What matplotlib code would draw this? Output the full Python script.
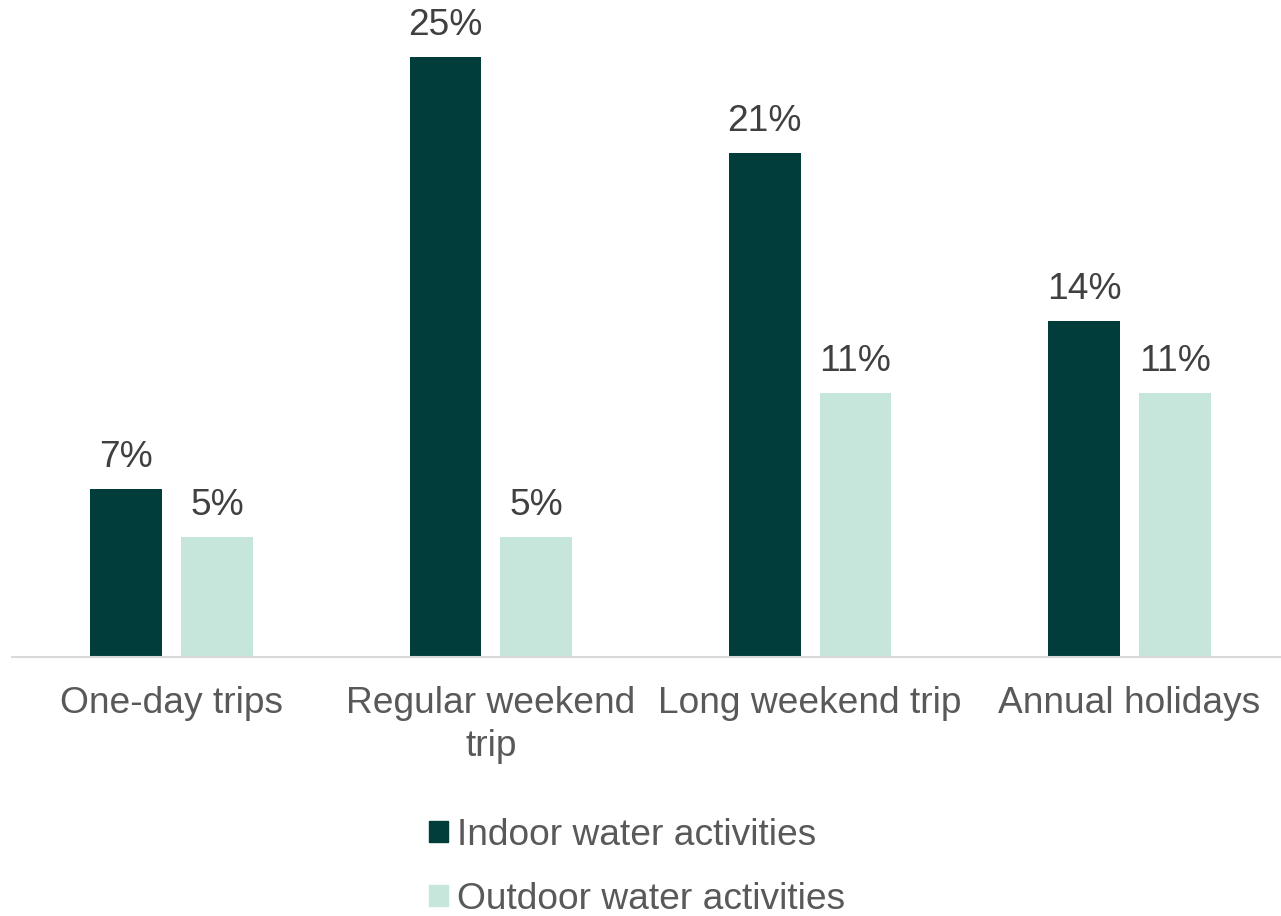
import matplotlib
matplotlib.use("Agg")
from matplotlib import pyplot as plt
from matplotlib.patches import Patch
import numpy as np

categories = ["One-day trips", "Regular weekend\ntrip", "Long weekend trip", "Annual holidays"]
indoor = [7, 25, 21, 14]
outdoor = [5, 5, 11, 11]
seriesNames = ["Indoor water activities", "Outdoor water activities"]

darkColor = "#013E3B"
lightColor = "#C6E6DC"
fontSize = 26.7

plt.rcParams["font.family"] = ["Liberation Sans", "DejaVu Sans"]

W, H = 1281, 916
fig = plt.figure(figsize=(W / 100, H / 100), dpi=100)
# axes in pixel terms: baseline at y=657, categories 319.5 px apart
ax = fig.add_axes([12 / W, (H - 657) / H, (1289 - 12) / W, 657 / H])

x = np.arange(len(categories))
barWidth = 0.225
off = 0.142
bars1 = ax.bar(x - off, indoor, barWidth, color=darkColor)
bars2 = ax.bar(x + off, outdoor, barWidth, color=lightColor)

for bars, vals in [(bars1, indoor), (bars2, outdoor)]:
    for b, v in zip(bars, vals):
        ax.annotate(f"{v}%", (b.get_x() + b.get_width() / 2, v), xytext=(0, 10),
                    textcoords="offset points", ha="center", va="bottom",
                    fontsize=fontSize, color="#404040")

ax.set_xlim(-0.5, 3.5)
ax.set_ylim(0, 657 / 24)
ax.set_xticks(x)
ax.set_xticklabels(categories, fontsize=fontSize, color="#595959", linespacing=1.3)
ax.tick_params(axis="x", length=0, pad=21)
ax.set_yticks([])
for s in ["top", "left", "right"]:
    ax.spines[s].set_visible(False)
ax.spines["bottom"].set_color("#D9D9D9")
ax.spines["bottom"].set_linewidth(1.5)

handles = [Patch(color=darkColor), Patch(color=lightColor)]
leg = fig.legend(handles, seriesNames, loc="upper left",
                 bbox_to_anchor=(429 / W, 1 - 818 / H), frameon=False,
                 fontsize=fontSize, handlelength=0.5, handleheight=0.5,
                 handletextpad=0.25, labelspacing=0.78, borderpad=0, borderaxespad=0)
for t in leg.get_texts():
    t.set_color("#595959")

plt.savefig("out.png", dpi=100)
